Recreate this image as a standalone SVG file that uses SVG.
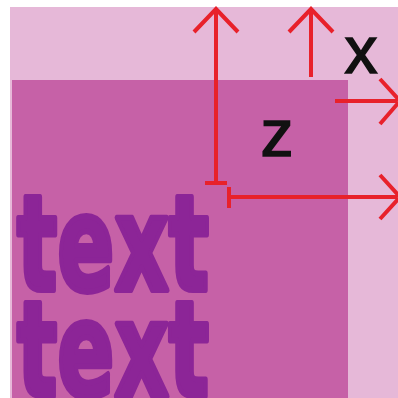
<svg xmlns="http://www.w3.org/2000/svg" width="398" height="398" viewBox="0 0 398 398">
<style>
.axis{stroke:#e8212b;stroke-width:4;fill:none;stroke-linecap:butt;stroke-linejoin:miter}
.big{font-family:"DejaVu Sans",sans-serif;font-weight:bold;font-size:131px;fill:#8c2597;stroke:#8c2597;stroke-width:6;stroke-linejoin:round}
.lbl{font-family:"Liberation Sans",Arial,sans-serif;font-size:66px;fill:#111;stroke:#111;stroke-width:1.5;text-anchor:middle}
</style>
<rect x="0" y="0" width="398" height="398" fill="#ffffff"/>
<g id="background">
<rect x="10" y="7" width="388" height="391" fill="#e6b8d8"/>
<rect x="12" y="80" width="336" height="318" fill="#c661a7"/>
</g>
<g id="text-block">
<text class="big" x="17" y="290" textLength="192" lengthAdjust="spacingAndGlyphs">text</text>
<text class="big" x="17" y="396" textLength="192" lengthAdjust="spacingAndGlyphs">text</text>
</g>
<g id="label-x"><text class="lbl" x="361" y="73">x</text></g>
<g id="label-z"><text class="lbl" x="277" y="156">z</text></g>
<g id="connectors" class="axis">
<path d="M216 182 V9 M194 32 L216 9 L238 32"/>
<path d="M205 183 H227"/>
<path d="M311 77 V9 M289 32 L311 9 L333 32"/>
<path d="M335 101 H397 M380 79 L400 101 L380 124"/>
<path d="M229 197 H397 M380 175 L400 197 L380 219"/>
<path d="M229 187 V208"/>
</g>
</svg>
